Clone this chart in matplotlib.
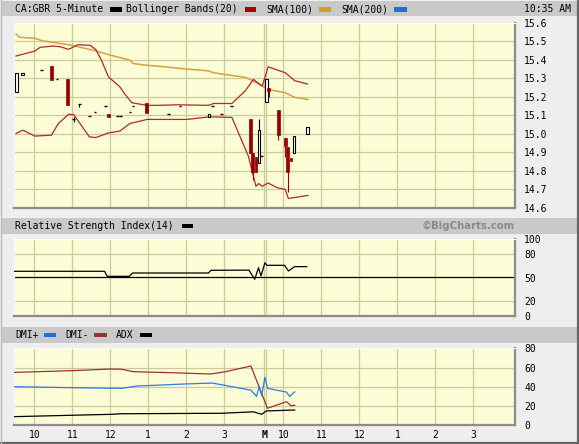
import matplotlib
matplotlib.use("Agg")
import matplotlib.pyplot as plt
from matplotlib.patches import Rectangle

# ---------------- data ----------------
# times are "session HH:MM" (session 1 = previous day, 2 = today)
candle_t = ["1 9:32", "1 9:41", "1 10:11", "1 10:27", "1 10:36", "1 10:52", "1 11:02", "1 11:11",
            "1 11:27", "1 11:36", "1 11:52", "1 11:57", "1 12:11", "1 12:16", "1 12:31", "1 12:36",
            "1 12:57", "1 13:32", "1 13:50", "1 14:36", "1 14:41", "1 14:56", "1 15:11",
            "1 15:41", "1 15:45", "1 15:50", "1 15:55", "1 15:59",
            "2 9:33", "2 9:37", "2 9:52", "2 10:03", "2 10:07", "2 10:12", "2 10:17", "2 10:38"]
candle_o = [15.224, 15.316, 15.344, 15.366, 15.294, 15.294, 15.079, 15.159,
            15.094, 15.117, 15.148, 15.106, 15.094, 15.094, 15.117, 15.150,
            15.164, 15.105, 15.148, 15.089, 15.148, 15.105, 15.148,
            15.079, 14.899, 14.876, 14.843, 14.879,
            15.173, 15.245, 15.128, 14.977, 14.928, 14.870, 14.899, 14.997]
candle_h = [15.327, 15.327, 15.344, 15.366, 15.294, 15.294, 15.092, 15.159,
            15.094, 15.117, 15.148, 15.106, 15.094, 15.094, 15.117, 15.150,
            15.168, 15.105, 15.148, 15.105, 15.148, 15.105, 15.148,
            15.079, 14.899, 14.876, 15.079, 14.879,
            15.296, 15.245, 15.128, 14.977, 14.928, 14.870, 14.988, 15.035]
candle_l = [15.224, 15.316, 15.344, 15.290, 15.294, 15.157, 15.065, 15.146,
            15.094, 15.117, 15.148, 15.092, 15.094, 15.094, 15.117, 15.150,
            15.114, 15.105, 15.148, 15.089, 15.148, 15.105, 15.148,
            14.899, 14.749, 14.795, 14.843, 14.879,
            15.173, 15.197, 14.966, 14.876, 14.686, 14.856, 14.899, 14.997]
candle_c = [15.327, 15.327, 15.344, 15.290, 15.294, 15.157, 15.079, 15.159,
            15.094, 15.117, 15.148, 15.092, 15.094, 15.094, 15.117, 15.150,
            15.114, 15.105, 15.148, 15.105, 15.148, 15.105, 15.148,
            14.899, 14.795, 14.795, 15.020, 14.879,
            15.296, 15.234, 14.993, 14.934, 14.795, 14.856, 14.988, 15.035]

bb_up_t = ["1 9:31", "1 10:01", "1 10:09", "1 10:30", "1 10:41", "1 10:54", "1 11:09", "1 11:28",
           "1 11:37", "1 11:46", "1 11:57", "1 12:15", "1 12:23", "1 12:34", "1 12:58", "1 13:16",
           "1 13:47", "1 14:35", "1 14:43", "1 15:12", "1 15:33", "1 15:46", "1 16:00",
           "2 9:36", "2 10:03", "2 10:18", "2 10:38"]
bb_up_v = [15.420, 15.447, 15.467, 15.474, 15.470, 15.456, 15.481, 15.478,
           15.456, 15.398, 15.308, 15.254, 15.215, 15.168, 15.154, 15.154,
           15.157, 15.154, 15.164, 15.164, 15.232, 15.294, 15.258,
           15.362, 15.330, 15.287, 15.269]

bb_lo_t = ["1 9:31", "1 9:42", "1 10:01", "1 10:27", "1 10:38", "1 10:54", "1 11:02", "1 11:27",
           "1 11:37", "1 11:57", "1 12:15", "1 12:31", "1 12:58", "1 14:01", "1 14:37", "1 15:12",
           "1 15:38", "1 15:50", "1 15:54", "1 16:00",
           "2 9:36", "2 9:50", "2 10:03", "2 10:08", "2 10:13", "2 10:39"]
bb_lo_v = [15.002, 15.020, 14.988, 14.993, 15.056, 15.105, 15.105, 14.984,
           14.980, 15.005, 15.015, 15.056, 15.078, 15.078, 15.092, 15.089,
           14.880, 14.717, 14.732, 14.717,
           14.735, 14.710, 14.700, 14.651, 14.654, 14.668]

sma100_t = ["1 9:31", "1 9:37", "1 10:01", "1 10:12", "1 10:56", "1 11:33", "1 12:00", "1 12:31",
            "1 12:36", "1 12:55", "1 13:26", "1 13:50", "1 14:35", "1 14:43", "1 14:56", "1 15:33",
            "1 15:43", "1 15:57", "2 9:36", "2 10:03", "2 10:18", "2 10:39"]
sma100_v = [15.539, 15.521, 15.516, 15.503, 15.480, 15.452, 15.425, 15.398,
            15.380, 15.371, 15.362, 15.353, 15.340, 15.330, 15.323, 15.305,
            15.290, 15.263, 15.240, 15.222, 15.197, 15.186]

rsi_t = ["1 9:29", "1 11:51", "1 11:55", "1 12:30", "1 12:35", "1 14:35", "1 14:39", "1 15:39",
         "1 15:48", "1 15:54", "1 15:58", "2 9:31", "2 9:34", "2 10:02", "2 10:08", "2 10:18", "2 10:37"]
rsi_v = [58, 58, 51.5, 51.5, 55.8, 55.8, 59.3, 59.5,
         47.7, 62.6, 52, 69, 65.7, 65.7, 58.4, 64, 64]

dmi_minus_t = ["1 9:29", "1 10:57", "1 12:01", "1 12:18", "1 12:36", "1 13:34", "1 14:38", "1 15:02",
               "1 15:42", "2 9:35", "2 10:05", "2 10:12", "2 10:18"]
dmi_minus_v = [55, 56.7, 58.5, 58.2, 55.7, 54.7, 53.3, 55.7, 61.6, 17.7, 24.5, 20.4, 20.8]

dmi_plus_t = ["1 9:29", "1 10:57", "1 12:18", "1 12:42", "1 13:57", "1 14:41", "1 15:42", "1 15:51",
              "1 15:55", "1 15:59", "2 9:31", "2 9:35", "2 10:05", "2 10:10", "2 10:18"]
dmi_plus_v = [40.1, 39.1, 38.4, 40.8, 42.9, 43.9, 36.5, 30.0, 40.1, 31.0, 49.9, 38.4, 34.5, 30.0, 34.7]

adx_t = ["1 9:29", "1 12:01", "1 12:18", "1 14:56", "1 15:46", "1 15:59", "2 9:33", "2 10:18"]
adx_v = [9, 11.4, 12, 12.5, 14, 11.4, 14.9, 15.9]

hour_labels = ["10", "11", "12", "1", "2", "3"]
hour_times = ["10:00", "11:00", "12:00", "13:00", "14:00", "15:00"]
price_ticks = [14.6, 14.7, 14.8, 14.9, 15.0, 15.1, 15.2, 15.3, 15.4, 15.5, 15.6]
rsi_ticks = [0, 20, 50, 80, 100]
dmi_ticks = [0, 20, 40, 60, 80]

# ---------------- helpers ----------------
GAP = 3.2  # small break between sessions on the time axis (minutes)


def pos(s):
    d, hm = s.split()
    h, m = map(int, hm.split(":"))
    mins = h * 60 + m - (9 * 60 + 30)
    return mins + (0 if d == "1" else 390 + GAP)


def P(lst):
    return [pos(s) for s in lst]


XLIM = (-2.05, 789.5)
GRID = "#cccc99"
BG = "#fcfcd6"
RED = "#990000"
BB = "#b02a2a"
SMA = "#d8a040"
MONO = "DejaVu Sans Mono"
FS = 7

fig = plt.figure(figsize=(5.79, 4.44), dpi=100)
fig.patch.set_facecolor("#eeeeee")

# background/layout axes in pixel units
bg = fig.add_axes([0, 0, 1, 1], zorder=-5)
bg.set_xlim(0, 579)
bg.set_ylim(444, 0)
bg.axis("off")
for y0, y1 in [(1.5, 16.5), (218, 233.5), (327, 342.5)]:
    bg.add_patch(Rectangle((2, y0), 575, y1 - y0, facecolor="#c9c9c9", edgecolor="none"))
bg.plot([578, 578], [0, 444], color="#666666", lw=1.6)
bg.plot([0, 579], [443, 443], color="#666666", lw=1.6)
bg.plot([1, 1], [0, 444], color="#bbbbbb", lw=1.0)


def swatch(x0, x1, y, color):
    bg.add_patch(Rectangle((x0, y - 2.3), x1 - x0, 4.6, facecolor=color, edgecolor="none"))


ty = 9.3
bg.text(15, ty, "CA:GBR 5-Minute", family=MONO, fontsize=FS, va="center")
swatch(110, 122, ty, "#000000")
bg.text(126, ty, "Bollinger Bands(20)", family=MONO, fontsize=FS, va="center")
swatch(245, 256, ty, "#aa0000")
bg.text(266.5, ty, "SMA(100)", family=MONO, fontsize=FS, va="center")
swatch(319, 331, ty, "#d49a2a")
bg.text(341.5, ty, "SMA(200)", family=MONO, fontsize=FS, va="center")
swatch(394, 406.5, ty, "#1a6fe8")
bg.text(571, ty, "10:35 AM", family=MONO, fontsize=FS, va="center", ha="right")

ty2 = 225.8
bg.text(15, ty2, "Relative Strength Index(14)", family=MONO, fontsize=FS, va="center")
swatch(181.5, 193, ty2, "#000000")
bg.text(515, ty2, "\u00a9BigCharts.com", family="DejaVu Sans", fontsize=7.3, fontweight="bold",
        color="#8a8a8a", va="center", ha="right")

ty3 = 335
bg.text(15, ty3, "DMI+", family=MONO, fontsize=FS, va="center")
swatch(43.5, 55.5, ty3, "#1a6fe8")
bg.text(65.5, ty3, "DMI-", family=MONO, fontsize=FS, va="center")
swatch(94, 107, ty3, "#993333")
bg.text(116, ty3, "ADX", family=MONO, fontsize=FS, va="center")
swatch(139.5, 151.5, ty3, "#000000")

L = 14 / 579
W = (515.3 - 14) / 579


def panel(top_px, bot_px):
    ax = fig.add_axes([L, 1 - bot_px / 444, W, (bot_px - top_px) / 444])
    ax.set_facecolor(BG)
    ax.set_xlim(*XLIM)
    for s in ["top", "left"]:
        ax.spines[s].set_color("#ffffff")
        ax.spines[s].set_linewidth(0.8)
    for s in ["right", "bottom"]:
        ax.spines[s].set_color("#8c8c8c")
        ax.spines[s].set_linewidth(1.6)
    ax.yaxis.tick_right()
    ax.tick_params(axis="y", length=0, pad=6.3, labelsize=FS)
    ax.tick_params(axis="x", length=0)
    for lab in ax.get_yticklabels():
        lab.set_family(MONO)
    # vertical grid: hours of both sessions + the session break
    for d in ["1", "2"]:
        for ht in hour_times:
            ax.axvline(pos(d + " " + ht), color=GRID, lw=0.9, zorder=0.5)
    ax.axvline(pos("2 9:30"), color=GRID, lw=0.9, zorder=0.5)
    ax.axvline(pos("2 9:33"), color=GRID, lw=0.9, zorder=0.5)
    return ax


# ---------------- price panel ----------------
ax1 = panel(22.7, 208)
ax1.set_ylim(14.6, 15.6)
for v in price_ticks[1:-1]:
    ax1.axhline(v, color=GRID, lw=0.9, zorder=0.5)
ax1.set_yticks(price_ticks)
ax1.set_yticklabels(["%.1f" % v for v in price_ticks], family=MONO, fontsize=FS)
ax1.set_xticks([])

ax1.plot(P(sma100_t), sma100_v, color=SMA, lw=1.1, zorder=2)
ax1.plot(P(bb_up_t), bb_up_v, color=BB, lw=0.9, zorder=2)
ax1.plot(P(bb_lo_t), bb_lo_v, color=BB, lw=0.9, zorder=2)

CW = 4.2
for t, o, h, l, c in zip(candle_t, candle_o, candle_h, candle_l, candle_c):
    x = pos(t)
    if c > o:
        ax1.vlines(x, l, o, color="k", lw=0.8, zorder=3)
        ax1.vlines(x, c, h, color="k", lw=0.8, zorder=3)
        ax1.add_patch(Rectangle((x - CW / 2, o), CW, c - o, facecolor="white",
                                edgecolor="black", lw=0.8, zorder=4))
    elif c < o:
        ax1.vlines(x, l, h, color=RED, lw=0.8, zorder=3)
        ax1.add_patch(Rectangle((x - CW / 2, c), CW, o - c, facecolor=RED,
                                edgecolor=RED, lw=0.5, zorder=4))
    else:
        if h > l:
            ax1.vlines(x, l, h, color="k", lw=0.8, zorder=3)
        ax1.hlines(o, x - CW / 2, x + CW / 2, color="k", lw=1.0, zorder=4)

# ---------------- RSI panel ----------------
ax2 = panel(238.7, 316.3)
ax2.set_ylim(0, 100)
for v in [20, 80]:
    ax2.axhline(v, color=GRID, lw=0.9, zorder=0.5)
ax2.axhline(50, color="black", lw=0.9, zorder=1)
ax2.set_yticks(rsi_ticks)
ax2.set_yticklabels([str(v) for v in rsi_ticks], family=MONO, fontsize=FS)
ax2.set_xticks([])
ax2.plot(P(rsi_t), rsi_v, color="black", lw=0.9, zorder=3)

# ---------------- DMI panel ----------------
ax3 = panel(348.3, 425.3)
ax3.set_ylim(0, 80)
for v in [20, 40, 60]:
    ax3.axhline(v, color=GRID, lw=0.9, zorder=0.5)
ax3.set_yticks(dmi_ticks)
ax3.set_yticklabels([str(v) for v in dmi_ticks], family=MONO, fontsize=FS)
ax3.plot(P(dmi_minus_t), dmi_minus_v, color="#a03232", lw=0.9, zorder=3)
ax3.plot(P(dmi_plus_t), dmi_plus_v, color="#2b7de9", lw=0.9, zorder=3)
ax3.plot(P(adx_t), adx_v, color="black", lw=0.9, zorder=3)

xt = [pos("1 " + h) for h in hour_times] + [pos("2 9:31")] + [pos("2 " + h) for h in hour_times]
xl = hour_labels + ["M"] + hour_labels
ax3.set_xticks(xt)
ax3.set_xticklabels(xl, family=MONO, fontsize=FS)
ax3.tick_params(axis="x", pad=3.5)
for lab in ax3.get_xticklabels():
    if lab.get_text() == "M":
        lab.set_fontweight("bold")

fig.savefig("out.png", dpi=100, facecolor=fig.get_facecolor())
